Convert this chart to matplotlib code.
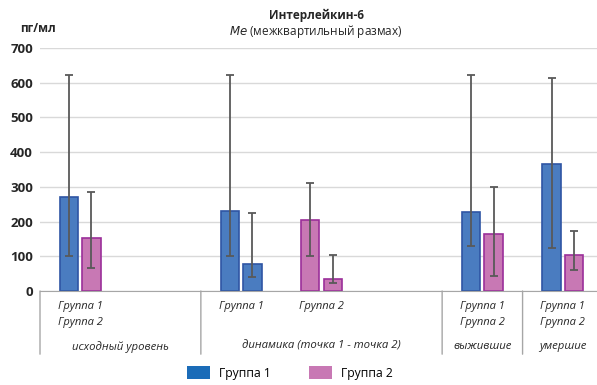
import matplotlib
matplotlib.use('Agg')
import matplotlib.pyplot as plt
from matplotlib.patches import Patch

plt.rcParams['font.family'] = ['Open Sans', 'DejaVu Sans']

# category slots along the x axis (7 slots, some empty)
slot_labels = ['Группа 1\nГруппа 2', '', 'Группа 1', 'Группа 2', '',
               'Группа 1\nГруппа 2', 'Группа 1\nГруппа 2']
sections = ['исходный уровень', 'динамика (точка 1 - точка 2)', 'выжившие', 'умершие']
section_bounds = [(0, 2), (2, 5), (5, 6), (6, 7)]

# bars: slot, median, lower quartile, upper quartile, group (1 or 2)
left_slot = [0, 2, 3, 5, 6]
left_me = [270, 231, 204, 228, 365]
left_lo = [100, 100, 100, 130, 124]
left_hi = [622, 622, 311, 622, 615]
left_grp = [1, 1, 2, 1, 1]

right_slot = [0, 2, 3, 5, 6]
right_me = [153, 77, 36, 163, 104]
right_lo = [65, 41, 22, 43, 60]
right_hi = [286, 226, 103, 300, 174]
right_grp = [2, 1, 2, 2, 2]

fill = {1: '#4a7cc0', 2: '#c878b4'}
edge = {1: '#2f55a4', 2: '#9b2f9a'}
legend_fill = {1: '#1b6cb8', 2: '#c878b4'}

fig = plt.figure(figsize=(5.97, 3.85), dpi=100)
# plot area runs slightly past the right edge of the canvas
ax = fig.add_axes([40 / 597, 94 / 385, 563 / 597, 243 / 385])

width = 0.23
off = 0.14


def draw(slots, me, lo, hi, grp, dx):
    xs = [s + dx for s in slots]
    ax.bar(xs, me, width, color=[fill[g] for g in grp],
           edgecolor=[edge[g] for g in grp], linewidth=1.2, zorder=2)
    yerr = [[m - l for m, l in zip(me, lo)], [h - m for m, h in zip(me, hi)]]
    ax.errorbar(xs, me, yerr=yerr, fmt='none', ecolor='#595959',
                elinewidth=1.3, capsize=3, capthick=1.3, zorder=3)


draw(left_slot, left_me, left_lo, left_hi, left_grp, -off)
draw(right_slot, right_me, right_lo, right_hi, right_grp, off)

ax.set_xlim(-0.5, len(slot_labels) - 0.5)
ax.set_ylim(0, 700)
ax.set_yticks(range(0, 701, 100))
ax.yaxis.grid(True, color='#d9d9d9', linewidth=1)
ax.set_axisbelow(True)
for s in ['top', 'right', 'left']:
    ax.spines[s].set_visible(False)
ax.spines['bottom'].set_color('#a6a6a6')
ax.tick_params(axis='y', length=0, pad=5, labelsize=9.5)
for t in ax.get_yticklabels():
    t.set_fontweight('bold')
    t.set_color('#262626')
ax.set_xticks([])

# slot labels
for i, lab in enumerate(slot_labels):
    if lab:
        ax.annotate(lab, xy=(i, 0), xycoords=('data', 'axes fraction'),
                    xytext=(0, -10), textcoords='offset pixels',
                    ha='center', va='top', fontsize=8, style='italic',
                    color='#262626', linespacing=1.6)

# section labels and dividers
for name, (a, b) in zip(sections, section_bounds):
    ax.annotate(name, xy=((a + b) / 2 - 0.5, 0), xycoords=('data', 'axes fraction'),
                xytext=(0, -50), textcoords='offset pixels',
                ha='center', va='top', fontsize=8.2, style='italic', color='#262626')
for x in [0, 2, 5, 6]:
    ax.annotate('', xy=(x - 0.5, 0), xycoords=('data', 'axes fraction'),
                xytext=(x - 0.5, -0.26), textcoords=('data', 'axes fraction'),
                arrowprops=dict(arrowstyle='-', color='#a6a6a6', lw=1,
                                shrinkA=0, shrinkB=0))

fig.text(316 / 597, 1 - 15 / 385, 'Интерлейкин-6', ha='center', va='center',
         fontsize=8.5, fontweight='bold', color='#262626')
fig.text(316 / 597, 1 - 31 / 385, r'$\mathit{Me}$ (межквартильный размах)',
         ha='center', va='center', fontsize=8.5, color='#262626')
fig.text(38 / 597, 1 - 28 / 385, 'пг/мл', ha='center', va='center',
         fontsize=8.5, fontweight='bold', color='#262626')

handles = [Patch(facecolor=legend_fill[g]) for g in (1, 2)]
fig.legend(handles, ['Группа 1', 'Группа 2'], loc='center',
           bbox_to_anchor=(290 / 597, 1 - 373 / 385), ncol=2, frameon=False,
           fontsize=8.7, handlelength=1.9, handleheight=1.2, columnspacing=3.2,
           handletextpad=0.7)

fig.savefig('out.png', dpi=100)
